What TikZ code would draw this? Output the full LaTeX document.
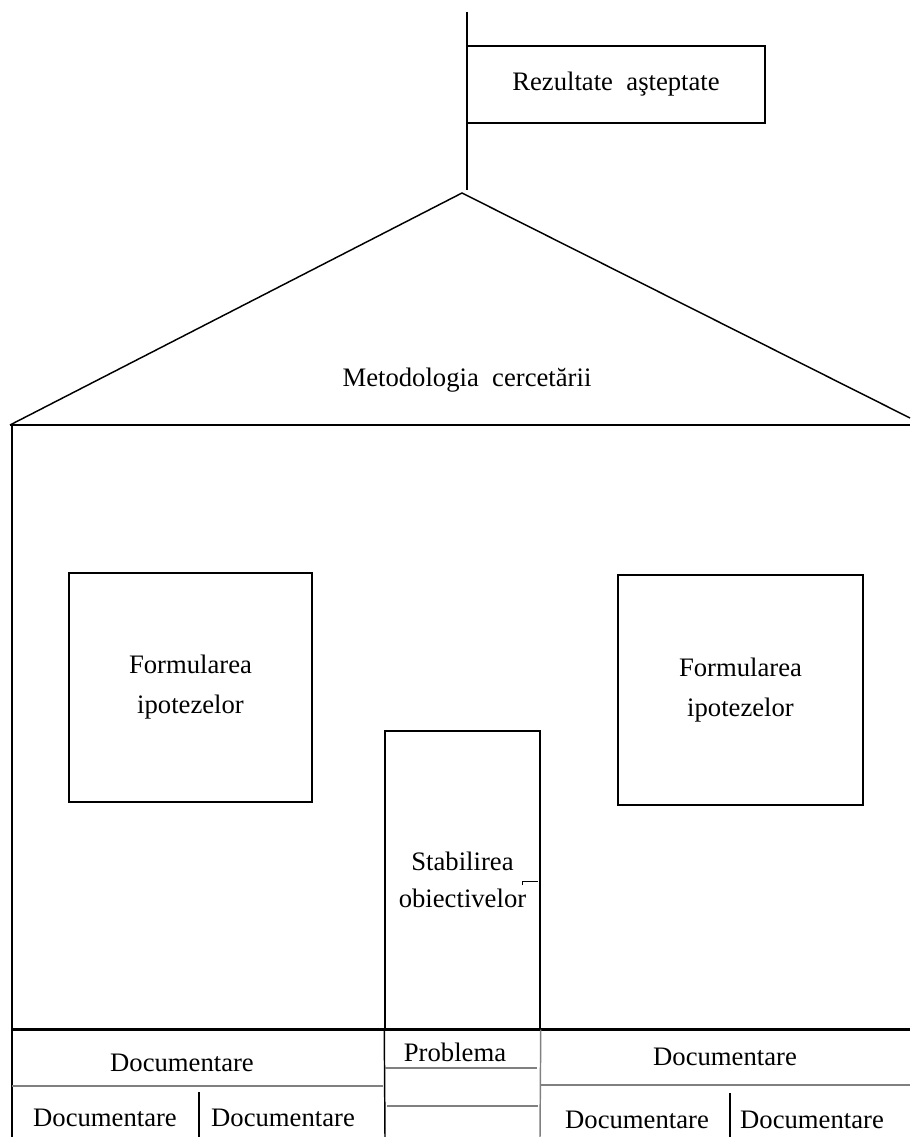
\documentclass[tikz,border=0pt]{standalone}
\usepackage{fontspec}
\setmainfont{Liberation Serif}
\usetikzlibrary{calc}

\begin{document}
\begin{tikzpicture}[x=0.75pt, y=-0.75pt,
    txt/.style={font=\fontsize{20}{30}\selectfont, align=center, inner sep=0pt},
    box/.style={draw, line width=1.1pt, txt},
    wall/.style={line width=1.1pt},
    part/.style={line width=1.1pt, gray}]
    \useasboundingbox (0,0) rectangle (910,1137);

    % Draw the flag on the mast
    \coordinate (mastTop) at (467,12);
    \coordinate (mastFoot) at (467,190);
    \draw[wall] (mastTop) -- (mastFoot);
    \node[box, minimum width=223.5pt, minimum height=57.75pt] (rez) at (616,84.5) {Rezultate \ aşteptate};

    % Draw the roof
    \coordinate (apex) at (462,193);
    \coordinate (eaveL) at (10,425);
    \coordinate (eaveR) at (910,418);
    \coordinate (lineR) at (910,425);
    \draw[wall] (eaveL) -- (apex) -- (eaveR);
    \draw[wall] (eaveL) -- (lineR);
    \node[txt] (met) at (467,380) {Metodologia \ cercetării};

    % Draw the wall and the floor
    \coordinate (wallTop) at (12,425);
    \coordinate (wallFoot) at (12,1137);
    \draw[wall] (wallTop) -- (wallFoot);
    \coordinate (floorL) at (12,1029);
    \coordinate (floorR) at (910,1029);
    \draw[line width=2.25pt] (floorL) -- (floorR);

    % Draw the windows and the door
    \node[box, minimum width=182.25pt, minimum height=171.75pt] (winL) at (190.5,687.5) {Formularea\\ipotezelor};
    \node[box, minimum width=183.75pt, minimum height=172.5pt] (winR) at (740.5,690) {Formularea\\ipotezelor};
    \node[box, minimum width=116.25pt, minimum height=223.5pt, font=\fontsize{20}{28}\selectfont] (door) at (462.5,880) {Stabilirea\\obiectivelor};
    \coordinate (handleA) at (522,885);
    \coordinate (handleB) at (522,881);
    \coordinate (handleC) at (538,881);
    \draw[line width=0.6pt] (handleA) -- (handleB) -- (handleC);

    % Draw the foundation
    \coordinate (doorFootL) at (385,1137);
    \coordinate (doorFootR) at (540,1137);
    \draw[wall] (door.south west) -- (doorFootL);
    \draw[part] (door.south east) -- (doorFootR);
    \node[txt] (prob) at (455,1052) {Problema};
    \coordinate (stepA1) at (385,1068);
    \coordinate (stepA2) at (537,1068);
    \coordinate (stepB1) at (387,1106);
    \coordinate (stepB2) at (538,1106);
    \draw[part] (stepA1) -- (stepA2);
    \draw[part] (stepB1) -- (stepB2);

    % left side
    \node[txt] (docL) at (182,1063) {Documentare};
    \coordinate (sepL1) at (12,1086);
    \coordinate (sepL2) at (383,1086);
    \draw[part] (sepL1) -- (sepL2);
    \coordinate (divL1) at (199,1092);
    \coordinate (divL2) at (199,1137);
    \draw[wall] (divL1) -- (divL2);
    \node[txt] (docLa) at (105,1118) {Documentare};
    \node[txt] (docLb) at (283,1118) {Documentare};

    % right side
    \node[txt] (docR) at (725,1057) {Documentare};
    \coordinate (sepR1) at (541,1085);
    \coordinate (sepR2) at (910,1085);
    \draw[part] (sepR1) -- (sepR2);
    \coordinate (divR1) at (730,1093);
    \coordinate (divR2) at (730,1137);
    \draw[wall] (divR1) -- (divR2);
    \node[txt] (docRa) at (637,1120) {Documentare};
    \node[txt] (docRb) at (812,1120) {Documentare};
\end{tikzpicture}
\end{document}
